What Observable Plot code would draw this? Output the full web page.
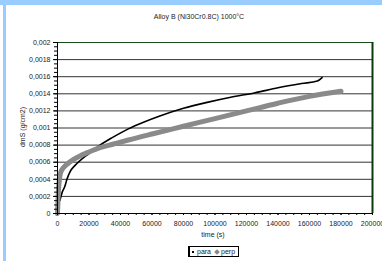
<!DOCTYPE html>
<html>
<head>
<meta charset="utf-8">
<script src="https://cdn.jsdelivr.net/npm/d3@7"></script>
<script src="https://cdn.jsdelivr.net/npm/@observablehq/plot@0.6"></script>
<style>
  html, body { margin: 0; padding: 0; background: #fff; }
  #wrap { position: relative; width: 382px; height: 261px; overflow: hidden; font-family: "Liberation Sans", Arial, sans-serif; color: #222; }
  #topband { position: absolute; left: 0; top: 0; width: 382px; height: 5px; background: #99ccff; }
  #leftband { position: absolute; left: 3px; top: 0; width: 3px; height: 261px; background: #99ccff; }
  #chart { position: absolute; left: 0; top: 0; }
  .lbl { position: absolute; font-size: 7px; white-space: nowrap; }
  #title { left: 199px; top: 13px; transform: translateX(-50%); }
  #xlabel { left: 213px; top: 231px; transform: translateX(-50%); }
  #ylabel { left: 22px; top: 127px; transform: translate(-50%, -50%) rotate(-90deg); }
  #legend { position: absolute; left: 188px; top: 246px; width: 51px; height: 11px; border: 1px solid #000; border-left-width: 2px; box-sizing: border-box; font-size: 7px; line-height: 9px; padding-left: 2px; }
  .sq { display: inline-block; width: 2px; height: 2px; background: #000; vertical-align: middle; margin-right: 3px; }
  .dm { display: inline-block; width: 4px; height: 4px; background: #888; transform: rotate(45deg); vertical-align: middle; margin: 0 2px 0 4px; }
</style>
</head>
<body>
<div id="wrap">
  <div id="chart"></div>
  <div id="topband"></div>
  <div id="leftband"></div>
  <div class="lbl" id="title">Alloy B (Ni30Cr0.8C) 1000°C</div>
  <div class="lbl" id="xlabel">time (s)</div>
  <div class="lbl" id="ylabel">dmS (g/cm2)</div>
  <div id="legend"><span class="sq"></span>para<span class="dm"></span>perp</div>
</div>
<script>
// para (black) series: time (s), mass gain (g/cm2)
const paraTime = [1500, 3000, 4500, 6000, 8000, 11000, 15000, 20000, 27000, 35000, 45000, 55000, 65000, 80000, 95000, 110000, 125000, 140000, 155000, 165000, 168000];
const paraValue = [0.00015, 0.00025, 0.00031, 0.00040, 0.00049, 0.00056, 0.00063, 0.00070, 0.00080, 0.00089, 0.00099, 0.00107, 0.00114, 0.00123, 0.00130, 0.00136, 0.00141, 0.00147, 0.00152, 0.00155, 0.00159];
// perp (gray) series
const perpTime = [0, 300, 700, 1200, 2000, 4000, 7000, 10000, 15000, 20000, 27000, 35000, 45000, 60000, 80000, 100000, 120000, 140000, 160000, 180000];
const perpValue = [0, 0.00015, 0.00030, 0.00040, 0.00048, 0.00054, 0.00059, 0.00063, 0.00068, 0.00072, 0.00077, 0.00081, 0.00086, 0.00093, 0.00102, 0.00111, 0.00120, 0.00129, 0.00137, 0.00143];
// axis ticks
const xTicks = [0, 20000, 40000, 60000, 80000, 100000, 120000, 140000, 160000, 180000, 200000];
const yTicks = [0, 0.0002, 0.0004, 0.0006, 0.0008, 0.001, 0.0012, 0.0014, 0.0016, 0.0018, 0.002];
const xMinor = d3.range(0, 200001, 5000);
const yMinor = d3.range(0, 0.0020001, 0.00005);

const para = paraTime.map((t, i) => ({t, v: paraValue[i]}));
const perp = perpTime.map((t, i) => ({t, v: perpValue[i]}));

const fmtY = d => d === 0 ? "0" : String(+d.toFixed(5)).replace(".", ",");

const chart = Plot.plot({
  width: 382,
  height: 261,
  marginLeft: 57,
  marginRight: 10,
  marginTop: 42,
  marginBottom: 48,
  style: {background: "transparent", fontFamily: "Liberation Sans, Arial, sans-serif", fontSize: "7px", color: "#222"},
  x: {domain: [0, 200000]},
  y: {domain: [0, 0.002]},
  marks: [
    Plot.ruleY(yTicks.slice(1, -1), {stroke: "#333", strokeWidth: 1}),
    Plot.ruleY([0.002], {stroke: "#1a4a1a", strokeWidth: 1}),
    Plot.ruleX([200000], {stroke: "#0a3a0a", strokeWidth: 2}),
    Plot.line(para, {x: "t", y: "v", stroke: "#000", strokeWidth: 1.6, curve: "monotone-x"}),
    Plot.line(perp, {x: "t", y: "v", stroke: "#8a8a8a", strokeWidth: 5, curve: "monotone-x"}),
    Plot.axisY(yMinor, {tickSize: 3, tickFormat: () => "", label: null, stroke: "#000"}),
    Plot.axisY(yTicks, {tickSize: 4, tickFormat: fmtY, label: null, tickPadding: 3, stroke: "#000", fill: "#222"}),
    Plot.axisX(xMinor, {tickSize: 2, tickFormat: () => "", label: null, stroke: "#000"}),
    Plot.axisX(xTicks, {tickSize: 2, tickFormat: d => String(d), label: null, tickPadding: 6, stroke: "#000", fill: "#222"}),
    Plot.ruleX([0], {stroke: "#000", strokeWidth: 1}),
    Plot.ruleY([0], {stroke: "#000", strokeWidth: 1})
  ]
});
document.getElementById("chart").appendChild(chart);
</script>
</body>
</html>
